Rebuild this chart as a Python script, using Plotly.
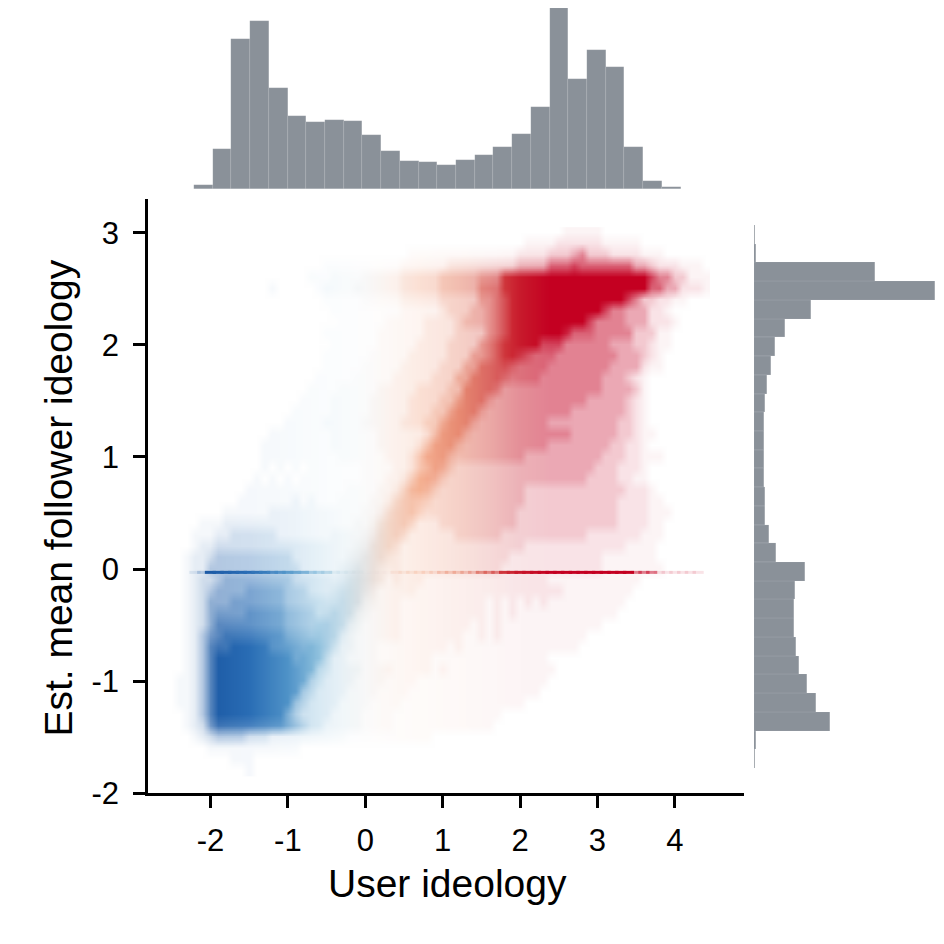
import base64
import struct
import zlib

import numpy as np
import plotly.graph_objects as go

# marginal histograms, bar heights (relative counts)
top_bin_start = -2.455
top_bin_width = 0.2418
top_counts = [0.5, 4, 40, 150, 168, 101, 73, 67, 69, 68, 54, 38, 28, 27, 24,
              29, 34, 42, 55, 82, 181, 110, 139, 122, 42, 8, 2, 0.5, 0.5]

right_bin_start = -1.777
right_bin_width = 0.1671
right_counts = [0.5, 2, 76, 62, 53, 45, 42, 40, 40, 41, 51, 22, 15, 11, 11,
                10, 10, 10, 10, 11, 13, 17, 21, 31, 57, 181, 121, 2, 1]

# point cloud read as a density grid: 0 = empty .. 9 = solid
# columns x = -2.5 .. 4.4 (step 0.1), rows y = 3.0 (first) .. -1.8 (last)
grid_x0 = -2.5
grid_y_top = 3.0
grid_step = 0.1
density_rows = [
    "00000 00000 00000 00000 00000 00000 00000 00000 00000 00000 01111 10000 00000 00000",  # 3.0
    "00000 00000 00000 00000 00000 00000 00000 00000 00000 01111 22222 21111 10000 00000",
    "00000 00000 00000 00000 00000 00000 01111 11111 11111 22223 33453 33222 21110 00000",
    "00000 00000 00000 00000 11111 11111 22222 23333 33333 44446 66766 66666 44322 21110",
    "00000 00000 00000 00011 12222 33333 44444 55555 66699 99999 99999 99999 99755 33111",
    "00000 00000 00010 00001 22223 33333 44444 55555 77799 99999 99999 99999 99664 42221",  # 2.5
    "00000 00000 00000 00000 11111 22222 33333 44444 66789 99999 99999 99997 53322 11000",
    "00000 00000 00000 00000 01111 11111 22222 34445 56789 99999 99999 97554 44221 00000",
    "00000 00000 00000 00000 00111 11122 22233 33455 56789 99999 99997 55554 44222 10000",
    "00000 00000 00000 00000 11111 11222 22233 33444 46789 99999 98666 55555 33311 00000",
    "00000 00000 00000 00000 01111 11222 22333 34444 67899 99977 75555 55444 33211 00000",  # 2.0
    "00000 00000 00000 00000 11111 12222 23333 34446 67899 87666 55555 55544 43210 00000",
    "00000 00000 00000 00000 11111 22222 33333 44466 88887 66665 55555 55444 42110 00000",
    "00000 00000 00000 00001 11112 22223 33334 44668 88876 66655 55555 54443 21000 00000",
    "00000 00000 00000 00011 11222 22333 33444 45588 88755 55555 55555 54444 31000 00000",
    "00000 00000 00000 00111 12222 23333 34444 55788 86555 55555 55554 44443 21000 00000",  # 1.5
    "00000 00000 00000 01111 12222 23333 34445 57888 65555 55555 55444 44443 21000 00000",
    "00000 00000 00000 11111 22222 33333 44455 78886 55555 55554 44444 44433 21000 00000",
    "00000 00000 00011 11111 12222 22333 33346 88865 55555 55555 55444 44433 21100 00000",
    "00000 00000 00111 11111 12222 22333 33468 88655 55555 55554 44444 44332 21000 00000",
    "00000 00000 00111 11111 11222 22233 34688 86555 55555 54444 44444 43332 21110 00000",  # 1.0
    "00000 00000 00101 01011 11111 22223 34678 75444 44444 44444 44444 33322 21000 00000",
    "00000 00000 01010 10111 11111 22233 46887 54444 44444 44444 44443 33322 11000 00000",
    "00000 00000 11111 11111 11122 22334 68875 44444 44444 43333 33333 33332 22100 00000",
    "00000 00001 11111 12121 11222 23346 77654 44444 44444 43333 33333 33322 22110 00000",
    "00000 00111 11122 22222 22222 33467 77544 44444 44444 33333 33333 33322 22111 00000",  # 0.5
    "00001 11222 22222 22222 22223 34677 75333 44444 44444 33333 33333 33322 22110 00000",
    "00011 12233 33332 22222 23333 45777 53333 33444 44433 33333 33332 22222 21110 00000",
    "00012 23333 33333 33333 33334 57775 33333 33333 33333 32222 22222 22221 11100 00000",
    "00122 34444 44444 43333 33345 77754 33333 33333 33332 22222 22222 21111 11100 00000",
    "00122 44444 44444 44333 33457 77544 33333 33333 33322 22222 22222 21111 11110 00000",  # 0.0
    "00123 34555 55555 54444 44578 87534 33322 22222 22222 22221 11111 11111 10000 00000",
    "00123 45555 66666 55544 45788 75333 33222 22222 22222 22222 21111 11111 00000 00000",
    "00123 55566 66666 55555 56888 54333 22222 22222 21212 12121 11111 11110 00000 00000",
    "00123 56666 77777 66665 68885 43333 22222 22222 21212 11111 11111 11100 00000 00000",
    "00123 57777 77777 66667 88854 33333 22222 22221 21211 11111 11111 10000 00000 00000",  # -0.5
    "00124 67888 88888 77778 88543 33333 22222 22211 21211 11111 11110 00000 00000 00000",
    "00124 78899 99988 88899 86443 33222 22222 21211 11111 11111 11100 00000 00000 00000",
    "00124 79999 99999 98999 64433 33222 22221 11111 11111 11110 00000 00000 00000 00000",
    "00124 79999 99999 99996 54444 33332 22221 21111 11111 11111 00000 00000 00000 00000",
    "01124 79999 99999 99965 44443 33322 22111 11111 11111 11110 00000 00000 00000 00000",  # -1.0
    "01124 79999 99999 99654 44433 33222 21111 11111 11111 11100 00000 00000 00000 00000",
    "01124 79999 99999 96544 44333 32222 11111 11111 11111 10000 00000 00000 00000 00000",
    "00124 79999 99999 75444 43333 22221 11111 11111 11100 00000 00000 00000 00000 00000",
    "00123 68888 88888 76544 33333 22221 11111 11111 11000 00000 00000 00000 00000 00000",
    "00012 34444 33322 22222 22211 11111 11110 00000 00000 00000 00000 00000 00000 00000",  # -1.5
    "00000 11111 11111 11000 00000 00000 00000 00000 00000 00000 00000 00000 00000 00000",
    "00000 00011 10000 00000 00000 00000 00000 00000 00000 00000 00000 00000 00000 00000",
    "00000 00000 10000 00000 00000 00000 00000 00000 00000 00000 00000 00000 00000 00000",  # -1.8
]

# users sitting on the flat line just under zero, density per 0.1 of x from -2.2
line_y = -0.03
line_x0 = -2.2
line_levels = "23" + "99999999" + "88888" + "666" + "3333" + "1111" + "3" + "33333" \
              + "44444" + "666" + "99999999999999999" + "555" + "222222"

# colour by user ideology (diverging blue - grey - red)
color_x = [-2.0, -1.5, -1.0, -0.6, -0.3, 0.0, 0.3, 0.7, 1.2, 1.6, 2.0, 2.4]
color_hex = ['#1d5ba6', '#2a6db5', '#4f93c8', '#8fc1de', '#bcd7e6', '#dcdcdc',
             '#efc7b3', '#f4a582', '#e4795d', '#d6504a', '#c81a2c', '#c40021']
alpha_levels = [0, 0.045, 0.11, 0.21, 0.34, 0.49, 0.62, 0.74, 0.87, 1.0]

hist_color = '#8a9199'

# the page sits 8px in from the corner and the shot is squeezed a little in height
W, H = 936, 944
OFF = 8
VSCALE = 0.981


def ideology_rgb(x):
    x = np.asarray(x, dtype=float)
    stops = np.array([[int(h[i:i + 2], 16) for i in (1, 3, 5)] for h in color_hex], dtype=float)
    return np.stack([np.interp(x, color_x, stops[:, k]) for k in range(3)], axis=-1)


def png_uri(rgb):
    h, w, _ = rgb.shape
    raw = b''.join(b'\x00' + rgb[i].tobytes() for i in range(h))

    def chunk(tag, data):
        body = tag + data
        return struct.pack('>I', len(data)) + body + struct.pack('>I', zlib.crc32(body) & 0xffffffff)

    png = (b'\x89PNG\r\n\x1a\n'
           + chunk(b'IHDR', struct.pack('>IIBBBBB', w, h, 8, 2, 0, 0, 0))
           + chunk(b'IDAT', zlib.compress(raw, 9))
           + chunk(b'IEND', b''))
    return 'data:image/png;base64,' + base64.b64encode(png).decode()


def fx(px):
    # screen x pixel -> paper fraction
    return (px - OFF) / W


def fy(py):
    # screen y pixel -> paper fraction
    return 1 - (py / VSCALE - OFF) / H


# build the density picture
rows = [r.replace(' ', '') for r in density_rows]
ncol = max(len(r) for r in rows)
levels = np.array([[int(c) for c in r.ljust(ncol, '0')] for r in rows])
col_x = grid_x0 + grid_step * np.arange(ncol)
alpha = np.array(alpha_levels)[levels][..., None]
img = 255 * (1 - alpha) + ideology_rgb(col_x)[None, :, :] * alpha
img = np.clip(np.round(img), 0, 255).astype(np.uint8)
# plotly lays the first png row at y0 going with dy, so flip to bottom-first
img = np.ascontiguousarray(img[::-1])

fig = go.Figure()

fig.add_trace(go.Image(
    source=png_uri(img),
    x0=grid_x0, dx=grid_step,
    y0=grid_y_top, dy=-grid_step,
    zsmooth='fast',
    hoverinfo='skip',
    xaxis='x', yaxis='y'
))

lx = line_x0 + grid_step * np.arange(len(line_levels))
lrgb = ideology_rgb(lx)
lcol = ['rgba(%d,%d,%d,%.2f)' % (c[0], c[1], c[2], alpha_levels[int(v)])
        for c, v in zip(lrgb, line_levels)]
fig.add_trace(go.Scatter(
    x=lx, y=[line_y] * len(lx), mode='markers',
    marker=dict(symbol='line-ew', size=8, line=dict(width=3, color=lcol)),
    hoverinfo='skip', xaxis='x', yaxis='y'
))

# top marginal
top_centers = [top_bin_start + top_bin_width * (k + 0.5) for k in range(len(top_counts))]
fig.add_trace(go.Bar(
    x=top_centers, y=top_counts, width=top_bin_width,
    marker=dict(color=hist_color, line=dict(width=0.4, color='rgba(255,255,255,0.2)')),
    hoverinfo='skip', xaxis='x2', yaxis='y2'
))

# right marginal
right_centers = [right_bin_start + right_bin_width * (k + 0.5) for k in range(len(right_counts))]
fig.add_trace(go.Bar(
    y=right_centers, x=right_counts, width=right_bin_width, orientation='h',
    marker=dict(color=hist_color, line=dict(width=0.4, color='rgba(255,255,255,0.2)')),
    hoverinfo='skip', xaxis='x3', yaxis='y3'
))

axis_style = dict(
    showline=True, linecolor='black', linewidth=2.5,
    ticks='outside', ticklen=12, tickwidth=2.5, tickcolor='black',
    showgrid=False, zeroline=False,
    tickfont=dict(size=31, color='black'),
)

xticks = [-2, -1, 0, 1, 2, 3, 4]
yticks = [-2, -1, 0, 1, 2, 3]

main_x = [fx(148), fx(744)]
main_y = [fy(793), fy(199)]

fig.update_layout(
    width=W, height=H,
    margin=dict(l=0, r=0, t=0, b=0),
    paper_bgcolor='white', plot_bgcolor='white',
    showlegend=False, bargap=0,
    font=dict(family='Liberation Sans, Arial, sans-serif', color='black'),
    xaxis=dict(domain=main_x, range=[-2.807, 4.893], anchor='y',
               tickvals=xticks, ticktext=[str(v) for v in xticks],
               ticklabelstandoff=6, **axis_style),
    yaxis=dict(domain=main_y, range=[-2.0, 3.301], anchor='x',
               scaleanchor=False,
               tickvals=yticks, ticktext=[str(v) for v in yticks],
               ticklabelstandoff=8, **axis_style),
    xaxis2=dict(domain=main_x, matches='x', anchor='y2', visible=False),
    yaxis2=dict(domain=[fy(189), 1.0], range=[0, 181.3], anchor='x2', visible=False),
    xaxis3=dict(domain=[fx(754), 1.0], range=[0, 190], anchor='y3', visible=False),
    yaxis3=dict(domain=main_y, matches='y', anchor='x3', visible=False),
    annotations=[
        dict(text='User ideology', xref='paper', yref='paper', x=fx(447), y=fy(883.5),
             xanchor='center', yanchor='middle', showarrow=False, font=dict(size=39)),
        dict(text='Est. mean follower ideology', xref='paper', yref='paper',
             x=fx(58.5), y=fy(498), xanchor='center', yanchor='middle',
             textangle=-90, showarrow=False, font=dict(size=39)),
    ],
)

fig.write_html("out.html", config={'displayModeBar': False})
